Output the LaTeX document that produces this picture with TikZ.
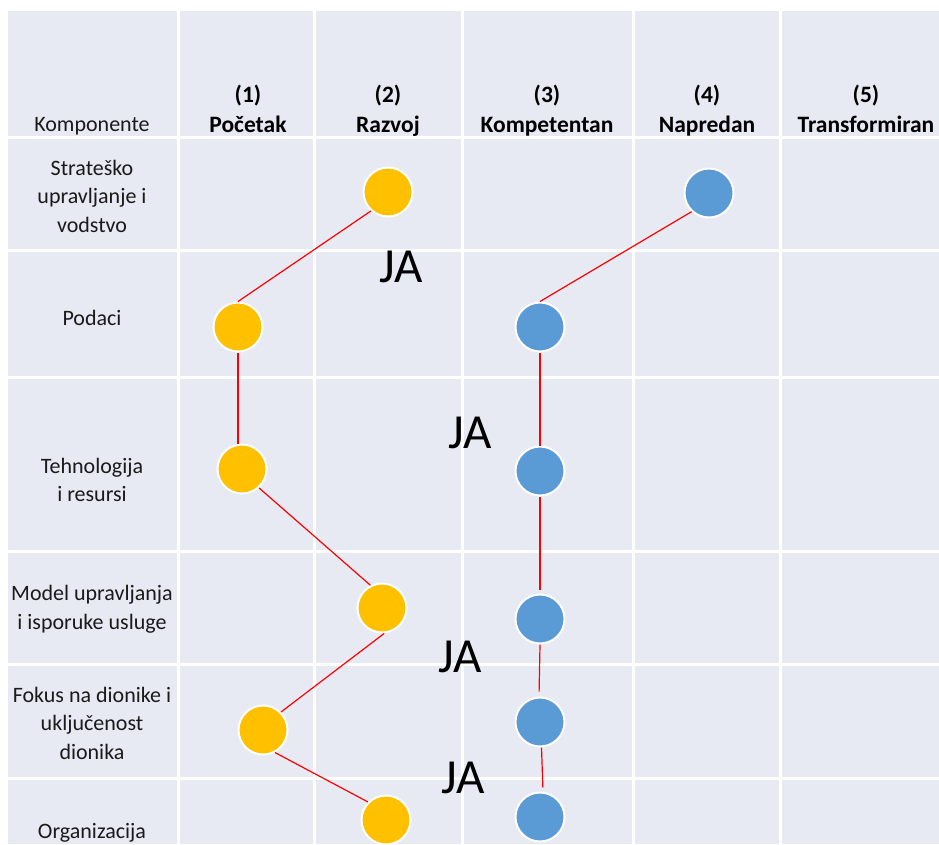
\documentclass[tikz,border=0pt]{standalone}
\usepackage{fontspec}
\setmainfont{Carlito}
\definecolor{bgpanel}{HTML}{E8EAF3}
\definecolor{dotyellow}{HTML}{FFC000}
\definecolor{dotblue}{HTML}{5B9BD5}
\definecolor{txt}{HTML}{1A1A1A}
\tikzset{
  grid/.style={white, line width=3pt},
  ydot/.style={circle, fill=dotyellow, draw=white, line width=2pt, minimum size=49pt, inner sep=0pt},
  bdot/.style={circle, fill=dotblue, draw=white, line width=2pt, minimum size=49pt, inner sep=0pt},
  link/.style={red, line width=1.2pt},
  rowlab/.style={text=txt, align=center, inner sep=0pt, font=\fontsize{22}{28.5}\selectfont},
  headlab/.style={text=black, align=center, inner sep=0pt, text depth=5pt, font=\bfseries\fontsize{23.5}{30}\selectfont},
  ja/.style={text=black, inner sep=0pt, font=\fontsize{49}{49}\selectfont}
}
\begin{document}
\begin{tikzpicture}[x=1pt, y=-1pt]
\useasboundingbox (0,0) rectangle (939,844);
\fill[white] (0,0) rectangle (939,844);
\fill[bgpanel] (8,11) rectangle (939,844);
% grid
\foreach \gx in {178,314,462,633,780} \draw[grid] (\gx,11) -- (\gx,844);
\foreach \gy in {137,250,377,551,664,778} \draw[grid] (8,\gy) -- (939,\gy);
% headers
\node[rowlab, text depth=5pt] (hk) at (92,127) {Komponente};
\node[headlab] (h1) at (248,111) {(1)\\Početak};
\node[headlab] (h2) at (388,111) {(2)\\Razvoj};
\node[headlab] (h3) at (547,111) {(3)\\Kompetentan};
\node[headlab] (h4) at (707,111) {(4)\\Napredan};
\node[headlab] (h5) at (866,111) {(5)\\Transformiran};
% row labels
\node[rowlab] (r1) at (92,196) {Strateško\\upravljanje i\\vodstvo};
\node[rowlab] (r2) at (92,318) {Podaci};
\node[rowlab] (r3) at (92,480) {Tehnologija\\i resursi};
\node[rowlab] (r4) at (92,609) {Model upravljanja\\i isporuke usluge};
\node[rowlab] (r5) at (92,723) {Fokus na dionike i\\uključenost\\dionika};
\node[rowlab] (r6) at (92,833) {Organizacija};
% dot centres
\coordinate (y1c) at (388,192);
\coordinate (y2c) at (238,327);
\coordinate (y3c) at (242,469);
\coordinate (y4c) at (382,608);
\coordinate (y5c) at (263,730);
\coordinate (y6c) at (386,820);
\coordinate (b1c) at (709,193);
\coordinate (b2c) at (540,327);
\coordinate (b3c) at (540,471);
\coordinate (b4c) at (540,619);
\coordinate (b5c) at (540,722);
\coordinate (b6c) at (540,817);
% dots
\node[ydot] (y1) at (y1c) {};
\node[ydot] (y2) at (y2c) {};
\node[ydot] (y3) at (y3c) {};
\node[ydot] (y4) at (y4c) {};
\node[ydot] (y5) at (y5c) {};
\node[ydot] (y6) at (y6c) {};
\node[bdot] (b1) at (b1c) {};
\node[bdot] (b2) at (b2c) {};
\node[bdot] (b3) at (b3c) {};
\node[bdot] (b4) at (b4c) {};
\node[bdot] (b5) at (b5c) {};
\node[bdot] (b6) at (b6c) {};
% connectors
\draw[link] (y1.228) -- (y2.north);
\draw[link] (y2.south) -- (y2.south |- y3.north);
\draw[link] (y3.-48) -- (y4.117);
\draw[link] (y4.-85) -- (y5.45);
\draw[link] (y5.-62) -- (y6.135);
\draw[link] (b1.227) -- (b2.north);
\draw[link] (b2.south) -- (b3.north);
\draw[link, shorten >=4pt] (b3.south) -- (b4.north);
\draw[link, shorten >=5pt] (b4.south) -- ([xshift=-1pt]b5.north);
\draw[link, shorten >=4pt] ([xshift=1.5pt]b5.south) -- ([xshift=3pt]b6.north);
% JA labels
\node[ja] (ja1) at (401,267) {JA};
\node[ja] (ja2) at (470,433) {JA};
\node[ja] (ja3) at (460,657) {JA};
\node[ja] (ja4) at (463,778) {JA};
\end{tikzpicture}
\end{document}
